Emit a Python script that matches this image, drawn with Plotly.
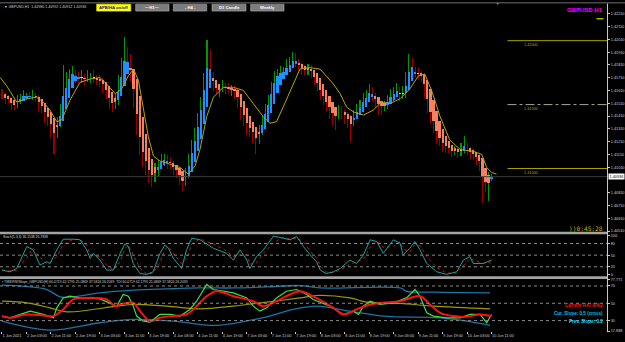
import plotly.graph_objects as go
import pandas as pd

W, H = 625, 342

# ---------------- data ----------------
first_open = 1.41590
close = [
    1.41571, 1.41548, 1.41533, 1.41510, 1.41495, 1.41533, 1.41556, 1.41564, 1.41571, 1.41564,
    1.41571, 1.41548, 1.41510, 1.41471, 1.41433, 1.41395, 1.41341, 1.41302, 1.41364, 1.41456,
    1.41571, 1.41671, 1.41725, 1.41741, 1.41718, 1.41702, 1.41710, 1.41694, 1.41702, 1.41710,
    1.41702, 1.41694, 1.41687, 1.41648, 1.41595, 1.41533, 1.41495, 1.41533, 1.41648, 1.41764,
    1.41841, 1.41802, 1.41725, 1.41533, 1.41341, 1.41187, 1.41110, 1.41033, 1.40979, 1.40933,
    1.40995, 1.41033, 1.41056, 1.41072, 1.41049, 1.41025, 1.41010, 1.40979, 1.40933, 1.40895,
    1.40956, 1.41072, 1.41164, 1.41264, 1.41395, 1.41533, 1.41687, 1.41779, 1.41725, 1.41648,
    1.41610, 1.41625, 1.41641, 1.41625, 1.41610, 1.41625, 1.41595, 1.41533, 1.41456, 1.41395,
    1.41341, 1.41318, 1.41287, 1.41241, 1.41302, 1.41379, 1.41456, 1.41533, 1.41625, 1.41702,
    1.41741, 1.41748, 1.41764, 1.41794, 1.41825, 1.41841, 1.41825, 1.41802, 1.41779, 1.41764,
    1.41779, 1.41748, 1.41702, 1.41648, 1.41595, 1.41548, 1.41510, 1.41471, 1.41441, 1.41425,
    1.41456, 1.41441, 1.41410, 1.41395, 1.41379, 1.41418, 1.41456, 1.41495, 1.41533, 1.41571,
    1.41610, 1.41571, 1.41533, 1.41510, 1.41487, 1.41495, 1.41533, 1.41571, 1.41595, 1.41610,
    1.41571, 1.41595, 1.41687, 1.41802, 1.41764, 1.41748, 1.41733, 1.41725, 1.41610, 1.41495,
    1.41418, 1.41341, 1.41264, 1.41226, 1.41187, 1.41164, 1.41149, 1.41133, 1.41133, 1.41126,
    1.41149, 1.41172, 1.41149, 1.41126, 1.41110, 1.41087, 1.41033, 1.40918, 1.40879, 1.40933,
    1.40936,
]
# wick lengths beyond the candle body, in pips
up_wick = [
    3, 2, 3, 2, 3, 4, 3, 5, 2, 3, 4, 2, 3, 2, 3, 2, 3, 2, 4, 5,
    24, 8, 5, 6, 3, 4, 6, 3, 7, 4, 6, 3, 4, 2, 3, 2, 3, 5, 8, 10,
    19, 11, 9, 4, 3, 2, 3, 2, 3, 4, 5, 3, 6, 4, 3, 4, 3, 2, 3, 2,
    5, 4, 6, 5, 4, 3, 6, 23, 15, 3, 4, 3, 5, 3, 4, 3, 2, 3, 2, 3,
    2, 3, 2, 3, 4, 3, 5, 4, 5, 6, 4, 5, 3, 6, 5, 7, 6, 3, 2, 3,
    4, 3, 2, 3, 2, 3, 2, 3, 2, 3, 4, 3, 2, 3, 2, 4, 5, 4, 6, 4,
    5, 3, 2, 3, 2, 3, 4, 5, 4, 6, 3, 5, 7, 9, 6, 3, 4, 3, 2, 3,
    2, 3, 2, 3, 2, 3, 4, 3, 4, 3, 5, 8, 3, 2, 3, 2, 3, 2, 3, 4,
    2,
]
dn_wick = [
    3, 4, 2, 5, 4, 2, 3, 2, 3, 2, 3, 3, 6, 4, 8, 6, 10, 19, 6, 4,
    3, 4, 3, 4, 5, 3, 3, 4, 2, 3, 3, 4, 5, 6, 5, 7, 5, 3, 4, 5,
    4, 5, 5, 6, 8, 8, 10, 8, 9, 8, 4, 5, 3, 4, 5, 3, 6, 5, 6, 7,
    3, 3, 4, 3, 5, 4, 3, 3, 4, 4, 3, 5, 3, 4, 3, 4, 5, 6, 8, 6,
    8, 7, 9, 13, 5, 4, 3, 3, 4, 3, 3, 4, 3, 3, 4, 3, 3, 4, 5, 3,
    3, 4, 5, 4, 6, 5, 6, 8, 10, 12, 4, 5, 6, 8, 17, 5, 3, 4, 3, 3,
    4, 5, 6, 9, 7, 4, 3, 3, 4, 3, 4, 3, 4, 5, 3, 4, 3, 5, 6, 6,
    7, 6, 7, 5, 6, 4, 3, 4, 3, 4, 3, 3, 4, 5, 4, 6, 5, 19, 6, 13,
    3,
]
time_labels = ["1 Jun 2021", "2 Jun 03:00", "2 Jun 11:00", "2 Jun 19:00", "3 Jun 03:00",
               "3 Jun 11:00", "3 Jun 19:00", "4 Jun 03:00", "4 Jun 11:00", "4 Jun 19:00",
               "7 Jun 03:00", "7 Jun 11:00", "7 Jun 19:00", "8 Jun 03:00", "8 Jun 11:00",
               "8 Jun 19:00", "9 Jun 03:00", "9 Jun 11:00", "9 Jun 19:00", "10 Jun 03:00",
               "10 Jun 11:00"]
label_every = 8

ma_bar = [-0.6, 1.5, 4.8, 8.1, 11.3, 13.5, 15.7, 17.9, 19.5, 22.2, 25.5, 28.8, 32, 34.2, 37, 39.1,
          41.3, 43, 44.6, 46.2, 47.8, 49.5, 51.6, 55, 58.2, 60.9, 63.1, 64.7, 66.9, 69.1, 72.3,
          75.6, 78.9, 82.1, 85.4, 87.6, 89.7, 91.9, 94.1, 97.4, 100.6, 104, 108.3, 110.5, 112.6,
          114.8, 118.1, 121.3, 124, 126.8, 130.1, 133.3, 136.1, 138.2, 140.4, 143.2, 146.3,
          149.7, 154, 156.8, 158.4, 160, 161.6]
ma_val = [1.41712, 1.41648, 1.41520, 1.41546, 1.41558, 1.41520, 1.41456, 1.41366, 1.41379,
          1.41533, 1.41674, 1.41700, 1.41712, 1.41661, 1.41585, 1.41623, 1.41725, 1.41777,
          1.41687, 1.41456, 1.41251, 1.41097, 1.41059, 1.41033, 1.41008, 1.40956, 1.41020,
          1.41149, 1.41405, 1.41558, 1.41635, 1.41635, 1.41610, 1.41508, 1.41405, 1.41354,
          1.41366, 1.41481, 1.41597, 1.41779, 1.41789, 1.41777, 1.41661, 1.41585, 1.41481,
          1.41443, 1.41418, 1.41456, 1.41520, 1.41508, 1.41546, 1.41623, 1.41725, 1.41738,
          1.41610, 1.41405, 1.41225, 1.41149, 1.41135, 1.41110, 1.41008, 1.40969, 1.40956]

levels = [1.42000, 1.41500, 1.41000]
level_dash = ["solid", "dashdot", "solid"]
level_labels = ["1.42000", "1.41500", "1.41000"]

price_ticks = [1.42210, 1.42110, 1.42010, 1.41910, 1.41810, 1.41710, 1.41610, 1.41510, 1.41410,
               1.41310, 1.41210, 1.41110, 1.41010, 1.40810, 1.40710, 1.40610, 1.40510]

stoch_bar = [0, 2.6, 4.8, 8.1, 10.2, 12.4, 14.6, 15.7, 17.9, 20, 23.3, 25.5, 27.7, 28.8, 29.8, 32,
             34.2, 36.4, 38.6, 40.2, 41.3, 42.9, 45.1, 47.3, 49.4, 51.6, 53.3, 54.4, 56, 58.7,
             60.3, 62, 64.7, 69.1, 73.4, 75.6, 77.8, 80, 81, 83.2, 85.4, 88.7, 91.9, 94.1, 96.3,
             98.5, 100.6, 102.8, 104, 106, 108.3, 110.5, 113.7, 115.9, 118.1, 120.3, 122.5, 124.6,
             127.9, 130.1, 131.1, 133.3, 134.9, 136.6, 138.8, 142.1, 145.3, 148.6, 150.8, 152.9,
             154, 157.3, 160]
stoch_main = [11.5, 7.0, 15.6, 72.1, 63.5, 24.5, 33.1, 28.6, 63.5, 91.1, 91.1, 89.6, 63.5, 41.7,
              54.7, 37.5, 11.5, 11.5, 54.7, 79.2, 72.1, 28.6, 2.6, 0.5, 7.0, 54.7, 76.6, 67.7,
              41.7, 15.6, 63.5, 93.8, 89.6, 67.7, 54.7, 37.5, 63.5, 37.5, 15.6, 46.1, 63.5, 99.0,
              93.8, 89.6, 98.2, 72.1, 52.0, 33.1, 11.5, 2.6, 7.0, 15.6, 37.5, 28.6, 50.4, 89.6,
              85.2, 54.7, 89.6, 80.8, 50.4, 67.7, 85.2, 63.5, 28.6, 7.0, 0.5, 7.0, 37.5, 46.1,
              28.6, 28.6, 37.5]
stoch_levels = [80, 50, 20]

rsi_bar = [0, 2.6, 7, 9.2, 13.5, 16.8, 17.9, 20, 22.2, 25.5, 32, 35.3, 37.5, 39.6, 41.3, 42.9, 44,
           46.2, 48.4, 51.6, 55, 58.2, 61.4, 63.6, 66.9, 69.1, 75.6, 80, 82.1, 84.3, 86.5, 89.7,
           93, 96.3, 99.6, 101.7, 107.2, 111.6, 114.8, 116.5, 118.1, 120.3, 123.5, 127.9, 132.2,
           135, 136.6, 138.8, 141, 145.3, 149.7, 152.9, 156.2, 158.4, 160]
rsi_val = [35.2, 33.2, 38.3, 40.9, 37.1, 33.2, 44.7, 56.2, 58.2, 56.2, 55.1, 50.5, 46.7, 60.1, 58.2,
           46.7, 35.2, 29.4, 28.3, 37.1, 37.1, 35.2, 42.9, 52.4, 71.7, 65.9, 62.0, 56.2, 46.7,
           40.9, 44.7, 56.2, 63.9, 65.9, 60.1, 54.4, 46.7, 37.1, 40.9, 37.1, 46.7, 52.4, 48.6,
           50.5, 56.2, 65.9, 58.2, 39.0, 35.2, 33.2, 33.2, 37.1, 37.1, 27.5, 37.1]
sig_bar = [0, 2.6, 8.1, 13.5, 16.8, 20, 23.3, 27.7, 34.2, 36.9, 38.6, 42.9, 45.1, 48.4, 51.6, 56,
           60.3, 63.6, 66.9, 70.2, 75.6, 82.1, 85.4, 89.7, 94.1, 97.4, 101.7, 108.3, 111.6, 115.9,
           120.3, 124.6, 130.1, 136.6, 139.9, 143.2, 147.5, 151.9, 156.2, 160]
sig_val = [35.2, 33.2, 37.1, 35.9, 35.2, 42.9, 54.4, 56.2, 54.4, 46.7, 48.6, 50.5, 40.9, 29.4, 33.2,
           35.2, 37.1, 46.7, 58.2, 63.9, 58.2, 52.4, 46.7, 52.4, 60.1, 63.9, 58.0, 44.7, 37.1, 42.9,
           48.6, 50.5, 52.4, 58.2, 48.6, 39.0, 35.2, 34.4, 37.1, 35.2]
upper_bar = [0, 14.6, 19, 23.3, 32, 42.9, 53.8, 64.7, 75.6, 86.5, 97.4, 103.9, 130.1, 132.2, 141, 159.5]
upper_val = [70.9, 65.9, 57.4, 57.4, 62.0, 65.1, 66.6, 67.7, 67.7, 68.9, 70.5, 67.7, 67.7, 63.9, 62.8, 62.0]
lower_bar = [0, 15.7, 32, 42.9, 56, 70.2, 86.5, 95.2, 102.8, 113.7, 124.6, 143.2, 151.9, 159.5]
lower_val = [29.4, 19.0, 27.5, 31.4, 29.4, 24.5, 34.4, 42.9, 46.7, 40.9, 35.2, 33.2, 29.4, 24.5]
base_bar = [0, 8.1, 15.7, 21.1, 37.5, 42.9, 53.8, 64.7, 75.6, 86.5, 97.4, 102.8, 113.7, 119.2, 130.1, 141, 159.5]
base_val = [52.4, 50.5, 44.7, 40.1, 46.7, 48.6, 46.7, 43.6, 46.7, 51.3, 56.2, 59.0, 56.2, 51.3, 49.8, 46.7, 43.6]
rsi_levels = [70, 50, 30]

# ---------------- derived OHLC / Heiken Ashi ----------------
n = len(close)
idx = list(range(n))
opn = [first_open] + close[:-1]
high = [max(o, c) + u * 1e-4 for o, c, u in zip(opn, close, up_wick)]
low = [min(o, c) - d * 1e-4 for o, c, d in zip(opn, close, dn_wick)]
ha_c = [(o + h + l + c) / 4 for o, h, l, c in zip(opn, high, low, close)]
ha_o = [(opn[0] + close[0]) / 2]
for i in range(1, n):
    ha_o.append((ha_o[i - 1] + ha_c[i - 1]) / 2)

BULL, BEAR, DOJI = "#1e90ff", "#f7805f", "#dcc870"
body_col = []
for o, c in zip(ha_o, ha_c):
    if abs(c - o) < 0.00006:
        body_col.append(DOJI)
    elif c >= o:
        body_col.append(BULL)
    else:
        body_col.append(BEAR)
wick_col = ["#009a00" if c >= o else "#9a0000" for o, c in zip(opn, close)]

# ---------------- layout geometry (pixels) ----------------
XR = 607.0 / W
bar_px = 3.06
x_range = [-0.65, 607.0 / bar_px - 0.65]


def py(p):
    return 1 - p / H


def px(p):
    return p / W


fig = go.Figure()

# wicks (regular candles) then HA bodies
fig.add_trace(go.Bar(x=idx, y=[h - l for h, l in zip(high, low)], base=low, width=0.34,
                     marker=dict(color=wick_col, line=dict(width=0)), xaxis="x", yaxis="y",
                     hoverinfo="skip"))
fig.add_trace(go.Bar(x=idx, y=[c - o for o, c in zip(ha_o, ha_c)], base=ha_o, width=0.74,
                     marker=dict(color=body_col, line=dict(width=0)), xaxis="x", yaxis="y",
                     hoverinfo="skip"))
fig.add_trace(go.Scatter(x=ma_bar, y=ma_val, mode="lines", line=dict(color="#b8a400", width=1),
                         xaxis="x", yaxis="y", hoverinfo="skip"))

# stochastic
sig = pd.Series(stoch_main).rolling(2, min_periods=1).mean().tolist()
fig.add_trace(go.Scatter(x=stoch_bar, y=sig, mode="lines",
                         line=dict(color="#c01818", width=1, dash="dot"), xaxis="x", yaxis="y2"))
fig.add_trace(go.Scatter(x=stoch_bar, y=stoch_main, mode="lines",
                         line=dict(color="#1f9e9e", width=1), xaxis="x", yaxis="y2"))

# TDI panel
fig.add_trace(go.Scatter(x=upper_bar, y=upper_val, mode="lines", line=dict(color="#1a74a6", width=1.3),
                         xaxis="x", yaxis="y3", line_shape="spline"))
fig.add_trace(go.Scatter(x=lower_bar, y=lower_val, mode="lines", line=dict(color="#1a74a6", width=1.3),
                         xaxis="x", yaxis="y3", line_shape="spline"))
fig.add_trace(go.Scatter(x=base_bar, y=base_val, mode="lines", line=dict(color="#9c9a00", width=1.2),
                         xaxis="x", yaxis="y3", line_shape="spline"))
fig.add_trace(go.Scatter(x=rsi_bar, y=rsi_val, mode="lines", line=dict(color="#3ee03e", width=1.2),
                         xaxis="x", yaxis="y3"))
fig.add_trace(go.Scatter(x=sig_bar, y=sig_val, mode="lines", line=dict(color="#ff1010", width=2),
                         xaxis="x", yaxis="y3", line_shape="spline"))

shapes = []
# level lines in main chart
for lv, ds in zip(levels, level_dash):
    shapes.append(dict(type="line", xref="x", yref="y", x0=165.2, x1=x_range[1], y0=lv, y1=lv,
                       line=dict(color="#a6a000" if ds == "solid" else "#a8a890", width=1, dash=ds)))
# current price line
shapes.append(dict(type="line", xref="paper", yref="y", x0=0, x1=XR, y0=close[-1], y1=close[-1],
                   line=dict(color="#3c3c3c", width=1)))
for lv in stoch_levels:
    shapes.append(dict(type="line", xref="paper", yref="y2", x0=0, x1=XR, y0=lv, y1=lv,
                       line=dict(color="#8a8a8a", width=1, dash="dot")))
for lv in rsi_levels:
    shapes.append(dict(type="line", xref="paper", yref="y3", x0=0, x1=XR, y0=lv, y1=lv,
                       line=dict(color="#8a8a8a", width=1, dash="dot")))
# panel separators
for y0, y1 in [(232.5, 235.0), (277.6, 280.2)]:
    shapes.append(dict(type="rect", xref="paper", yref="paper", x0=0, x1=XR, y0=py(y1), y1=py(y0),
                       fillcolor="#a4a4a4", line=dict(width=0), layer="above"))
# top border
shapes.append(dict(type="rect", xref="paper", yref="paper", x0=0, x1=1, y0=py(1.6), y1=1,
                   fillcolor="#4a4a4a", line=dict(width=0)))
# right axis line
shapes.append(dict(type="line", xref="paper", yref="paper", x0=XR + 0.5 / W, x1=XR + 0.5 / W,
                   y0=py(334), y1=py(1.6), line=dict(color="#c8c8c8", width=1)))
# buttons
buttons = [("APB/HA on/off", 96.7, 130.7, "#ffff00", "#1010a0"),
           ("\u2014H1\u2014", 135.7, 169.0, "#7c7c7c", "#ffffff"),
           ("- H4 -", 173.3, 206.7, "#7c7c7c", "#ffffff"),
           ("D1 Candle", 212.0, 246.0, "#7c7c7c", "#ffffff"),
           ("Weekly", 250.7, 284.0, "#7c7c7c", "#ffffff")]
for _, x0, x1, bg, _c in buttons:
    shapes.append(dict(type="rect", xref="paper", yref="paper", x0=px(x0), x1=px(x1), y0=py(9.2),
                       y1=py(2.2), fillcolor=bg, line=dict(color="#b0b0b0" if bg != "#ffff00" else bg, width=0.6)))
# yellow marker dash at top right
shapes.append(dict(type="line", xref="paper", yref="paper", x0=px(596.5), x1=px(603.5), y0=py(17), y1=py(17),
                   line=dict(color="#ffff00", width=1)))

FONT = "Liberation Sans"
ann = []


def text(t, x, y, size, color, xa="left", ya="middle", bold=False, fam=FONT, bg=None):
    d = dict(text=("<b>%s</b>" % t) if bold else t, xref="paper", yref="paper", x=px(x), y=py(y),
             xanchor=xa, yanchor=ya, showarrow=False, font=dict(size=size, color=color, family=fam),
             borderpad=0)
    if bg:
        d["bgcolor"] = bg
    ann.append(d)


text("\u25BC GBPUSD,H1  1.40980 1.40992 1.40912 1.40936", 3, 5.2, 3.6, "#d0d0d0")
for t, x0, x1, bg, c in buttons:
    text(t, (x0 + x1) / 2, 5.8, 4.2, c, xa="center", bold=True)
text("GBPUSD H1", 603.5, 8.2, 6, "#ff00ff", xa="right", bold=True)
text("\u25BC", 497.7, 1.8, 3.5, "#909090", xa="center")
text("))0:45:28", 603.5, 229.5, 6.2, "#c8b400", xa="right", fam="DejaVu Sans Mono")
text("Stoch(5,3,3) 36.1538 26.7838", 2, 238.2, 3.4, "#d0d0d0")
text("\u25AA TMS/RSI/Slope_GBPUSD(H) 60.0719 42.1795 25.0869 37.5824 26.2039  TDI 60.0719 42.1795 "
     "25.0869 37.5824 26.2039", 1, 283.3, 3.4, "#d0d0d0")
text("Current HA: 0/4/2", 603.5, 306.8, 4.6, "#ff1a1a", xa="right", bold=True)
text("Cur. Slope: 0.5 (cross)", 603.5, 315.3, 4.6, "#00bfff", xa="right", bold=True)
text("Prev. Slope: 0.2", 603.5, 323.4, 4.6, "#00e0ff", xa="right", bold=True)
# level labels
for lv, lab in zip(levels, level_labels):
    ann.append(dict(text=lab, xref="x", yref="y", x=169.8, y=lv, xanchor="left", yanchor="top",
                    yshift=-0.6, showarrow=False, font=dict(size=3.8, color="#b0a400", family=FONT)))
# current price box
ann.append(dict(text="1.40936", xref="paper", yref="y", x=XR + 1 / W, y=close[-1], xanchor="left",
                yanchor="middle", showarrow=False, bgcolor="#ffffff", borderpad=0.6,
                font=dict(size=3.8, color="#000000", family=FONT)))

tickfont = dict(size=3.8, color="#d0d0d0", family=FONT)
fig.update_layout(
    width=W, height=H, margin=dict(l=0, r=0, t=0, b=0), paper_bgcolor="black", plot_bgcolor="black",
    showlegend=False, barmode="overlay", bargap=0, hovermode=False,
    xaxis=dict(domain=[0, XR], range=x_range, anchor="y3", showgrid=False, zeroline=False,
               tickvals=[i * label_every for i in range(len(time_labels))], ticktext=time_labels,
               ticks="outside", ticklen=2, tickcolor="#c8c8c8", tickfont=tickfont, tickangle=0,
               ticklabelposition="outside right", showline=False),
    yaxis=dict(domain=[py(232.5), py(2)], range=[1.40505, 1.42287], side="right", anchor="x",
               showgrid=False, zeroline=False, tickvals=price_ticks,
               ticktext=["%.5f" % v for v in price_ticks], ticks="outside", ticklen=2,
               tickcolor="#c8c8c8", tickfont=tickfont, showline=False),
    yaxis2=dict(domain=[py(277.6), py(235.0)], range=[-4.65, 103.9], side="right", anchor="x",
                showgrid=False, zeroline=False, tickvals=[100, 80, 50, 20, 0], ticks="outside",
                ticklen=2, tickcolor="#c8c8c8", tickfont=tickfont, showline=False),
    yaxis3=dict(domain=[py(333), py(280.5)], range=[17.85, 77.8], side="right", anchor="x",
                showgrid=False, zeroline=False, tickvals=[77.771, 70, 50, 30, 17.888],
                ticktext=["77.771", "70", "50", "30", "17.888"], ticks="outside", ticklen=2,
                tickcolor="#c8c8c8", tickfont=tickfont, showline=False),
    shapes=shapes, annotations=ann,
)

fig.write_html("out.html", config={"displayModeBar": False, "staticPlot": True})
